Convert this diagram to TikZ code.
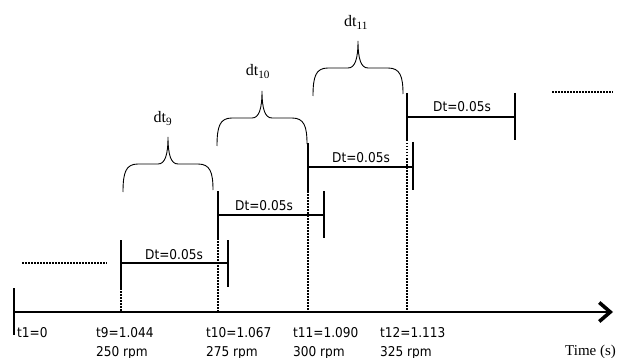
\documentclass[tikz,border=0pt]{standalone}
\usepackage{fontspec}
\setmainfont{Liberation Serif}
\newfontfamily\labfont[FakeStretch=0.9]{DejaVu Sans}
\usetikzlibrary{arrows.meta}
\begin{document}
\begin{tikzpicture}[x=1pt,y=-1pt,
  lab/.style={font=\labfont\fontsize{13.5}{14}\selectfont, inner sep=0pt, anchor=base west},
  dtlab/.style={font=\labfont\fontsize{13.5}{14}\selectfont, inner sep=0pt, anchor=base},
  dtname/.style={font=\fontsize{16}{17}\selectfont, inner sep=0pt, anchor=base},
  axisline/.style={line width=1.6pt, -{Straight Barb[length=11pt,width=19pt,line width=3.6pt]}},
  tickline/.style={line width=2.3pt},
  barline/.style={line width=1.3pt},
  dotline/.style={line width=1.9pt, dash pattern=on 1.5pt off 1.5pt},
  braceline/.style={line width=0.9pt},
  cbrace/.pic={\draw[braceline] (-45,28) .. controls (-45,8) and (-42,0) .. (-30,0) -- (-10,0)
     .. controls (-3,0) and (0,-9) .. (0,-27) .. controls (0,-9) and (3,0) .. (10,0) -- (30,0)
     .. controls (42,0) and (45,8) .. (45,26);}
]
\useasboundingbox (0,0) rectangle (620,358);

% axis
\coordinate (o) at (14,312);
\coordinate (aend) at (613,312);
\draw[axisline] (o) -- (aend);
\coordinate (t1a) at (14,288);
\coordinate (t1b) at (14,335);
\draw[tickline] (t1a) -- (t1b);

% interval 1
\coordinate (a1t) at (121,240); \coordinate (a1b) at (121,288); \coordinate (a1x) at (121,312);
\coordinate (b1t) at (228,240); \coordinate (b1b) at (228,287);
\coordinate (a1m) at (121,263); \coordinate (b1m) at (228,263);
\draw[tickline] (a1t) -- (a1b);
\draw[tickline] (b1t) -- (b1b);
\draw[barline] (a1m) -- (b1m);
\draw[dotline] (a1b) -- (a1x);
\node[dtlab] (d1) at (174,259) {Dt=0.05s};

% interval 2
\coordinate (a2t) at (218,191); \coordinate (a2b) at (218,238); \coordinate (a2x) at (218,312);
\coordinate (b2t) at (324,191); \coordinate (b2b) at (324,238);
\coordinate (a2m) at (218,215); \coordinate (b2m) at (324,215);
\draw[tickline] (a2t) -- (a2b);
\draw[tickline] (b2t) -- (b2b);
\draw[barline] (a2m) -- (b2m);
\draw[dotline] (a2b) -- (a2x);
\node[dtlab] (d2) at (264,210) {Dt=0.05s};

% interval 3
\coordinate (a3t) at (308,143); \coordinate (a3b) at (308,191); \coordinate (a3x) at (308,312);
\coordinate (b3t) at (413,142); \coordinate (b3b) at (413,190);
\coordinate (a3m) at (308,167); \coordinate (b3m) at (413,167);
\draw[tickline] (a3t) -- (a3b);
\draw[tickline] (b3t) -- (b3b);
\draw[barline] (a3m) -- (b3m);
\draw[dotline] (a3b) -- (a3x);
\node[dtlab] (d3) at (361,162) {Dt=0.05s};

% interval 4
\coordinate (a4t) at (407,93); \coordinate (a4b) at (407,140); \coordinate (a4x) at (407,312);
\coordinate (b4t) at (515,93); \coordinate (b4b) at (515,140);
\coordinate (a4m) at (407,117); \coordinate (b4m) at (515,117);
\draw[tickline] (a4t) -- (a4b);
\draw[tickline] (b4t) -- (b4b);
\draw[barline] (a4m) -- (b4m);
\draw[dotline] (a4b) -- (a4x);
\node[dtlab] (d4) at (462,112) {Dt=0.05s};

% continuation dots
\coordinate (l1) at (22,263); \coordinate (l2) at (107,263);
\coordinate (r1) at (552,92); \coordinate (r2) at (613,92);
\draw[dotline] (l1) -- (l2);
\draw[dotline] (r1) -- (r2);

% braces
\pic at (168,164) {cbrace};
\pic at (262,118) {cbrace};
\pic at (358,68) {cbrace};
\node[dtname] (n9) at (163,123) {dt\textsubscript{9}};
\node[dtname] (n10) at (258,76) {dt\textsubscript{10}};
\node[dtname] (n11) at (356,27) {dt\textsubscript{11}};

% axis labels
\node[lab] (l1t) at (17,337) {t1=0};
\node[lab] (l9t) at (96,337) {t9=1.044};
\node[lab] (l9r) at (96,356) {250 rpm};
\node[lab] (l10t) at (206,337) {t10=1.067};
\node[lab] (l10r) at (206,356) {275 rpm};
\node[lab] (l11t) at (293,337) {t11=1.090};
\node[lab] (l11r) at (293,356) {300 rpm};
\node[lab] (l12t) at (380,337) {t12=1.113};
\node[lab] (l12r) at (380,356) {325 rpm};
\node[inner sep=0pt, anchor=base west, font=\fontsize{15}{16}\selectfont] (tm) at (565,355) {Time (s)};
\end{tikzpicture}
\end{document}
